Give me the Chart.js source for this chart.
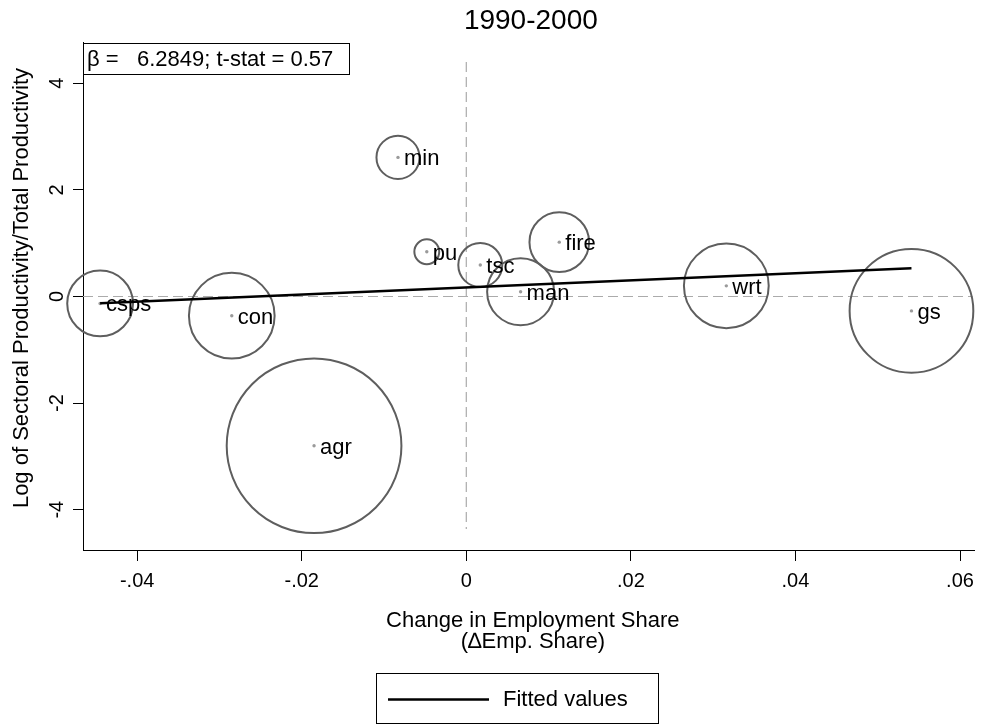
<!DOCTYPE html>
<html>
<head>
<meta charset="utf-8">
<script src="https://cdn.jsdelivr.net/npm/chart.js@4"></script>
<style>
  html, body { margin: 0; padding: 0; background: #fff; }
  #wrap { width: 982px; height: 725px; }
</style>
</head>
<body>
<div id="wrap"><canvas id="myChart"></canvas></div>
<script>
// Sector data
const sectors = ["csps", "con", "agr", "min", "pu", "tsc", "man", "fire", "wrt", "gs"];
const empShareChange = [-0.0445, -0.0285, -0.0185, -0.0083, -0.0048, 0.0017, 0.0066, 0.0113, 0.0316, 0.0541];
const logRelProductivity = [-0.13, -0.36, -2.80, 2.61, 0.84, 0.59, 0.09, 1.02, 0.20, -0.27];
const empWeight = [5.6, 9.5, 39.5, 2.4, 0.8, 2.5, 5.8, 4.6, 9.3, 19.8];

// Fitted line end points
const fittedX = [-0.0445, 0.0541];
const fittedY = [-0.128, 0.529];

const xTicks = [-0.04, -0.02, 0, 0.02, 0.04, 0.06];
const xTickLabels = ["-.04", "-.02", "0", ".02", ".04", ".06"];
const yTicks = [-4, -2, 0, 2, 4];
const yTickLabels = ["-4", "-2", "0", "2", "4"];

const chartTitle = "1990-2000";
const statText = "\u03B2 =   6.2849; t-stat = 0.57";
const xTitle = ["Change in Employment Share", "(\u2206Emp. Share)"];
const yTitle = "Log of Sectoral Productivity/Total Productivity";

const FONT = "'Liberation Sans', Arial, sans-serif";
Chart.defaults.font.family = FONT;
Chart.defaults.color = "#000";

const bubbleScale = 13.9; // px per sqrt(weight)

// Dashed zero lines, drawn under the circles
const refLines = {
    id: "refLines",
    beforeDatasetsDraw(chart) {
        const { ctx, chartArea, scales } = chart;
        const x0 = scales.x.getPixelForValue(0);
        const y0 = scales.y.getPixelForValue(0);
        ctx.save();
        ctx.strokeStyle = "#ababab";
        ctx.lineWidth = 1.2;
        ctx.setLineDash([10, 5]);
        ctx.beginPath();
        ctx.moveTo(x0, chartArea.top + 20);
        ctx.lineTo(x0, chartArea.bottom - 21);
        ctx.moveTo(chartArea.left, y0);
        ctx.lineTo(chartArea.right - 2, y0);
        ctx.stroke();
        ctx.restore();
    },
};

// Sector names next to the centre dots
const sectorLabels = {
    id: "sectorLabels",
    afterDatasetsDraw(chart) {
        const { ctx } = chart;
        const meta = chart.getDatasetMeta(1);
        ctx.save();
        ctx.font = `22px ${FONT}`;
        ctx.fillStyle = "#000";
        ctx.textBaseline = "alphabetic";
        meta.data.forEach((pt, i) => {
            ctx.fillText(sectors[i], pt.x + 6, pt.y + 8);
        });
        ctx.restore();
    },
};

// Title, stat box, axis titles, rotated y tick labels, legend
const decorations = {
    id: "decorations",
    afterDraw(chart) {
        const { ctx, chartArea, scales } = chart;
        const midX = (chartArea.left + chartArea.right) / 2;
        const midY = (chartArea.top + chartArea.bottom) / 2;
        ctx.save();
        ctx.fillStyle = "#000";

        // title
        ctx.font = `28px ${FONT}`;
        ctx.textAlign = "center";
        ctx.textBaseline = "alphabetic";
        ctx.fillText(chartTitle, midX + 2, 29);

        // stat box
        ctx.fillStyle = "#fff";
        ctx.fillRect(chartArea.left, 43, 266, 31);
        ctx.strokeStyle = "#000";
        ctx.lineWidth = 1;
        ctx.strokeRect(chartArea.left + 0.5, 43.5, 266, 31);
        ctx.fillStyle = "#000";
        ctx.font = `22px ${FONT}`;
        ctx.textAlign = "left";
        ctx.fillText(statText, chartArea.left + 4, 66);

        // x axis title
        ctx.textAlign = "center";
        ctx.fillText(xTitle[0], midX + 4, 627);
        ctx.fillText(xTitle[1], midX + 4, 648);

        // y axis title
        ctx.save();
        ctx.translate(28, midY - 8);
        ctx.rotate(-Math.PI / 2);
        ctx.fillText(yTitle, 0, 0);
        ctx.restore();

        // y tick labels, rotated like the title
        ctx.font = `20px ${FONT}`;
        yTicks.forEach((v, i) => {
            const py = scales.y.getPixelForValue(v);
            ctx.save();
            ctx.translate(63, py);
            ctx.rotate(-Math.PI / 2);
            ctx.fillText(yTickLabels[i], 0, 0);
            ctx.restore();
        });

        // legend
        const ds = chart.data.datasets[0];
        ctx.strokeStyle = "#000";
        ctx.lineWidth = 1;
        ctx.strokeRect(376.5, 673.5, 282, 50);
        ctx.beginPath();
        ctx.lineWidth = ds.borderWidth;
        ctx.moveTo(388, 699.5);
        ctx.lineTo(489, 699.5);
        ctx.stroke();
        ctx.font = `22px ${FONT}`;
        ctx.textAlign = "left";
        ctx.fillText(ds.label, 503, 706);
        ctx.restore();
    },
};

const bubbles = sectors.map((s, i) => ({
    x: empShareChange[i],
    y: logRelProductivity[i],
    r: bubbleScale * Math.sqrt(empWeight[i]),
}));
const centres = sectors.map((s, i) => ({ x: empShareChange[i], y: logRelProductivity[i] }));
const fitted = fittedX.map((x, i) => ({ x, y: fittedY[i] }));

const config = {
    type: "bubble",
    data: {
        datasets: [
            {
                type: "line",
                label: "Fitted values",
                data: fitted,
                borderColor: "#000",
                borderWidth: 2.5,
                pointRadius: 0,
                fill: false,
                clip: false,
            },
            {
                type: "scatter",
                label: "centres",
                data: centres,
                pointRadius: 1.7,
                backgroundColor: "#9a9a9a",
                borderWidth: 0,
                clip: false,
            },
            {
                label: "sectors",
                data: bubbles,
                backgroundColor: "rgba(0,0,0,0)",
                borderColor: "#5e5e5e",
                borderWidth: 2,
                clip: false,
            },
        ],
    },
    options: {
        responsive: false,
        animation: false,
        events: [],
        layout: { autoPadding: false, padding: { top: 42, right: 5, left: 0, bottom: 0 } },
        plugins: {
            legend: { display: false },
            title: { display: false },
            tooltip: { enabled: false },
        },
        scales: {
            x: {
                type: "linear",
                min: -0.04658,
                max: 0.06178,
                afterBuildTicks: (s) => { s.ticks = xTicks.map((v) => ({ value: v })); },
                afterFit: (s) => { s.height = 175; },
                ticks: {
                    font: { size: 20 },
                    color: "#000",
                    padding: 8,
                    maxRotation: 0,
                    callback: (v, i) => xTickLabels[i],
                },
                grid: { drawOnChartArea: false, drawTicks: true, tickLength: 11, color: "#000", tickWidth: 1 },
                border: { display: true, color: "#000", width: 1 },
            },
            y: {
                type: "linear",
                min: -4.756,
                max: 4.775,
                afterBuildTicks: (s) => { s.ticks = yTicks.map((v) => ({ value: v })); },
                afterFit: (s) => { s.width = 83; },
                ticks: { display: false },
                grid: { drawOnChartArea: false, drawTicks: true, tickLength: 10, color: "#000", tickWidth: 1 },
                border: { display: true, color: "#000", width: 1 },
            },
        },
    },
    plugins: [refLines, sectorLabels, decorations],
};

const canvas = document.querySelector("#myChart");
canvas.width = 982;
canvas.height = 725;
const myChart = new Chart(canvas, config);
</script>
</body>
</html>
